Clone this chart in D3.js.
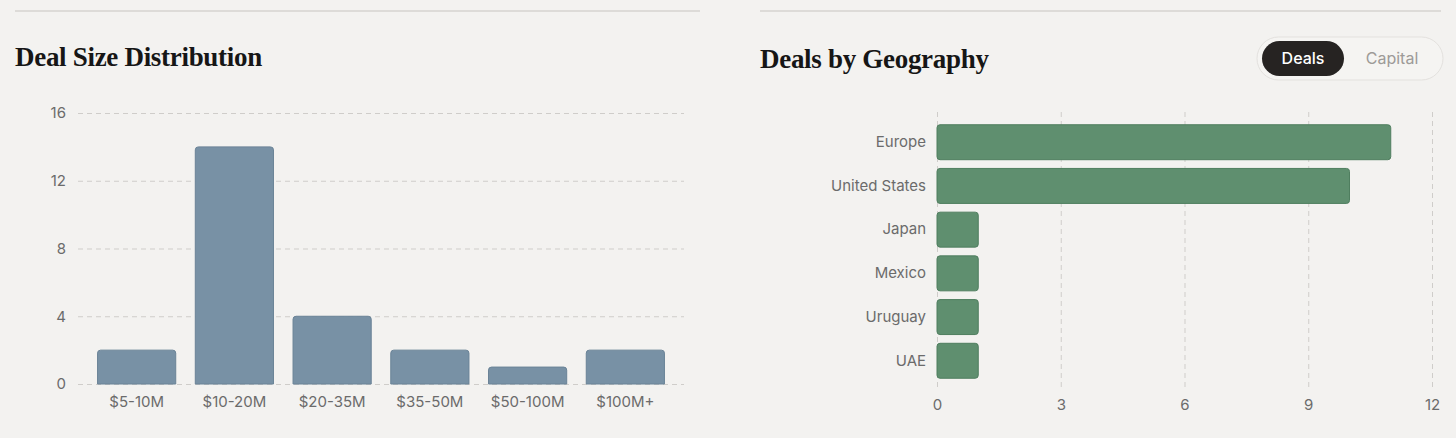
<!DOCTYPE html>
<html><head><meta charset="utf-8">
<script src="https://cdn.jsdelivr.net/npm/d3@7"></script>
<style>
body{margin:0;background:#f3f2f0;}
text{font-family:Inter,"Noto Sans",sans-serif;}
.title{font-family:"Liberation Serif",serif;font-weight:bold;font-size:27px;fill:#161616;letter-spacing:-0.3px}
.tick text{font-size:15px;fill:#6b6b6b}
</style></head><body>
<script>
var sizeCats = ["$5-10M","$10-20M","$20-35M","$35-50M","$50-100M","$100M+"];
var sizeVals = [2,14,4,2,1,2];
var sizeTicks = [0,4,8,12,16];
var geoCats = ["Europe","United States","Japan","Mexico","Uruguay","UAE"];
var geoVals = [11,10,1,1,1,1];
var geoTicks = [0,3,6,9,12];

var svg = d3.select("body").append("svg").attr("width",1456).attr("height",438);

// top rules
svg.append("line").attr("x1",15).attr("x2",700).attr("y1",11).attr("y2",11).style("stroke","#dddbd8").style("stroke-width",2);
svg.append("line").attr("x1",760).attr("x2",1441).attr("y1",11).attr("y2",11).style("stroke","#dddbd8").style("stroke-width",2);

svg.append("text").attr("class","title").attr("x",15).attr("y",66).text("Deal Size Distribution");
svg.append("text").attr("class","title").attr("x",760).attr("y",68).text("Deals by Geography");

// toggle
var tg = svg.append("g");
tg.append("rect").attr("x",1257).attr("y",37).attr("width",186).attr("height",43).attr("rx",21.5).style("fill","#f5f4f2").style("stroke","#e3e1de");
tg.append("rect").attr("x",1262).attr("y",41).attr("width",82).attr("height",35).attr("rx",17.5).style("fill","#262322");
tg.append("text").attr("x",1303).attr("y",64).attr("text-anchor","middle").style("font-size","16px").style("font-weight",500).style("fill","#fff").text("Deals");
tg.append("text").attr("x",1392).attr("y",64).attr("text-anchor","middle").style("font-size","16px").style("fill","#9d9a98").text("Capital");

// left chart
var x1 = d3.scaleBand().domain(sizeCats).range([78,684]).padding(0.2);
var y1 = d3.scaleLinear().domain([0,16]).range([384,113]);
var gy = svg.append("g").attr("transform","translate(78,0)").call(d3.axisLeft(y1).tickValues(sizeTicks).tickSize(-606).tickPadding(12));
gy.select(".domain").remove();
gy.selectAll(".tick line").style("stroke","#cfcdca").style("stroke-dasharray","5,4");
svg.selectAll(".bar1").data(sizeVals).join("path")
  .attr("d",function(d,i){var x=x1(sizeCats[i]),w=x1.bandwidth(),y=y1(d),b=y1(0),r=3;
    return "M"+x+","+b+"V"+(y+r)+"Q"+x+","+y+" "+(x+r)+","+y+"H"+(x+w-r)+"Q"+(x+w)+","+y+" "+(x+w)+","+(y+r)+"V"+b+"Z";})
  .style("fill","#7891a5").style("stroke","#6a8397");
var gx = svg.append("g").attr("transform","translate(0,384)").call(d3.axisBottom(x1).tickSize(0).tickPadding(12));
gx.select(".domain").remove();

// right chart
var x2 = d3.scaleLinear().domain([0,12]).range([937,1432]);
var y2 = d3.scaleBand().domain(geoCats).range([116,387]).padding(0.2);
var gx2 = svg.append("g").attr("transform","translate(0,387)").call(d3.axisBottom(x2).tickValues(geoTicks).tickSize(-275).tickPadding(12));
gx2.select(".domain").remove();
gx2.selectAll(".tick line").style("stroke","#cfcdca").style("stroke-dasharray","5,4");
svg.selectAll(".bar2").data(geoVals).join("rect")
  .attr("x",x2(0)).attr("y",function(d,i){return y2(geoCats[i]);})
  .attr("width",function(d){return x2(d)-x2(0);}).attr("height",y2.bandwidth()).attr("rx",3)
  .style("fill","#5f8f6f").style("stroke","#4f7e5f");
var gy2 = svg.append("g").attr("transform","translate(937,0)").call(d3.axisLeft(y2).tickSize(0).tickPadding(11));
gy2.select(".domain").remove();
</script>
</body></html>
